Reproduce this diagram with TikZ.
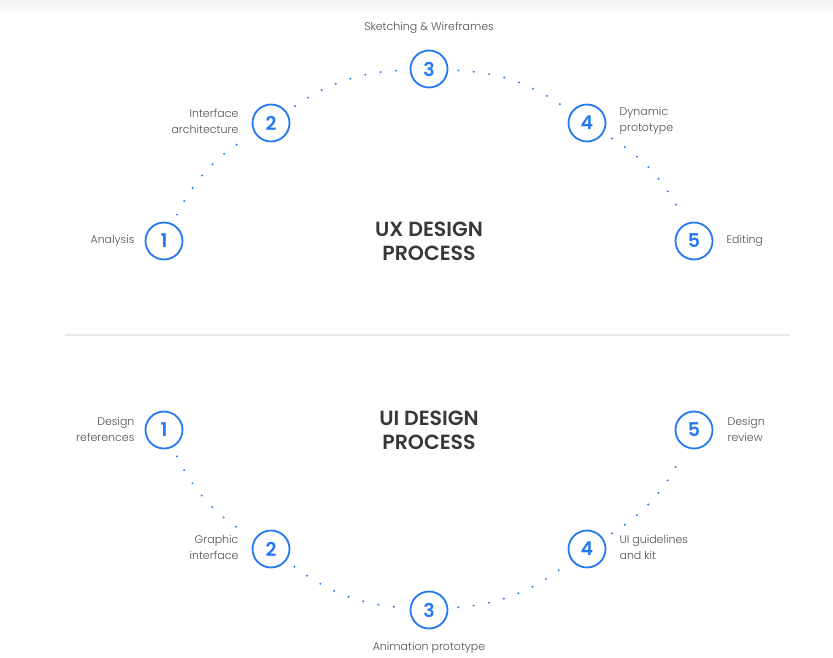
\documentclass[tikz,border=0pt]{standalone}
\usepackage{fontspec}
\setmainfont{Poppins}[BoldFont={Poppins SemiBold}]
\newfontfamily\lightfont{Poppins Light}
\usepackage{tikz}
\usetikzlibrary{positioning}
\definecolor{blueacc}{HTML}{2479F2}
\definecolor{graytext}{HTML}{4F4F4F}
\definecolor{darkmain}{HTML}{383838}
\definecolor{rulegray}{HTML}{E8E8E8}
\tikzset{stage/.style={circle,draw=blueacc,line width=1.8pt,minimum size=37pt,inner sep=0pt,text=blueacc,font=\fontsize{19}{19}\selectfont\bfseries},
lbl/.style={text=graytext,inner sep=0pt,font=\lightfont\fontsize{11}{16}\selectfont},
dots/.style={blueacc,line width=2.2pt,line cap=round,dash pattern=on 0pt off 15.5pt,shorten <=10pt,shorten >=10pt},
title/.style={text=darkmain,align=center,inner sep=0pt,font=\fontsize{20.5}{24}\selectfont\bfseries}}

\begin{document}
\begin{tikzpicture}[x=1pt,y=1pt]
\useasboundingbox (0,0) rectangle (833,-658);
\shade[top color=black!6,bottom color=white] (0,0) rectangle (833,-14);
% UX process
\node[stage] (x1) at (164,-241) {1};
\node[stage] (x2) at (271,-123) {2};
\node[stage] (x3) at (429,-69) {3};
\node[stage] (x4) at (587,-123) {4};
\node[stage] (x5) at (694,-241) {5};
\foreach \a/\b in {x1/x2,x2/x3,x3/x4,x4/x5}
 \draw[dots] (\a) to[bend left=16] (\b);
\node[lbl,left=10pt of x1] (xl1) {Analysis};
\node[lbl,left=13pt of x2,align=right,yshift=2pt] (xl2) {Interface\\architecture};
\node[lbl,above=16pt of x3] (xl3) {Sketching \& Wireframes};
\node[lbl,right=13pt of x4,align=left,yshift=2pt] (xl4) {Dynamic\\prototype};
\node[lbl,right=13pt of x5] (xl5) {Editing};
\node[title] (uxt) at (429,-241) {UX DESIGN\\PROCESS};
% separator
\draw[rulegray,line width=1.5pt] (65,-335)--(790,-335);
% UI process
\node[stage] (y1) at (164,-430) {1};
\node[stage] (y2) at (271,-549) {2};
\node[stage] (y3) at (429,-610) {3};
\node[stage] (y4) at (587,-549) {4};
\node[stage] (y5) at (694,-430) {5};
\foreach \a/\b in {y1/y2,y2/y3,y3/y4,y4/y5}
 \draw[dots] (\a) to[bend right=16] (\b);
\node[lbl,left=10pt of y1,align=right,yshift=1pt] (yl1) {Design\\references};
\node[lbl,left=13pt of y2,align=right,yshift=2pt] (yl2) {Graphic\\interface};
\node[lbl,below=13pt of y3] (yl3) {Animation prototype};
\node[lbl,right=13pt of y4,align=left,yshift=2pt] (yl4) {UI guidelines\\and kit};
\node[lbl,right=14pt of y5,align=left,yshift=1pt] (yl5) {Design\\review};
\node[title] (uit) at (429,-430) {UI DESIGN\\PROCESS};
\end{tikzpicture}
\end{document}
